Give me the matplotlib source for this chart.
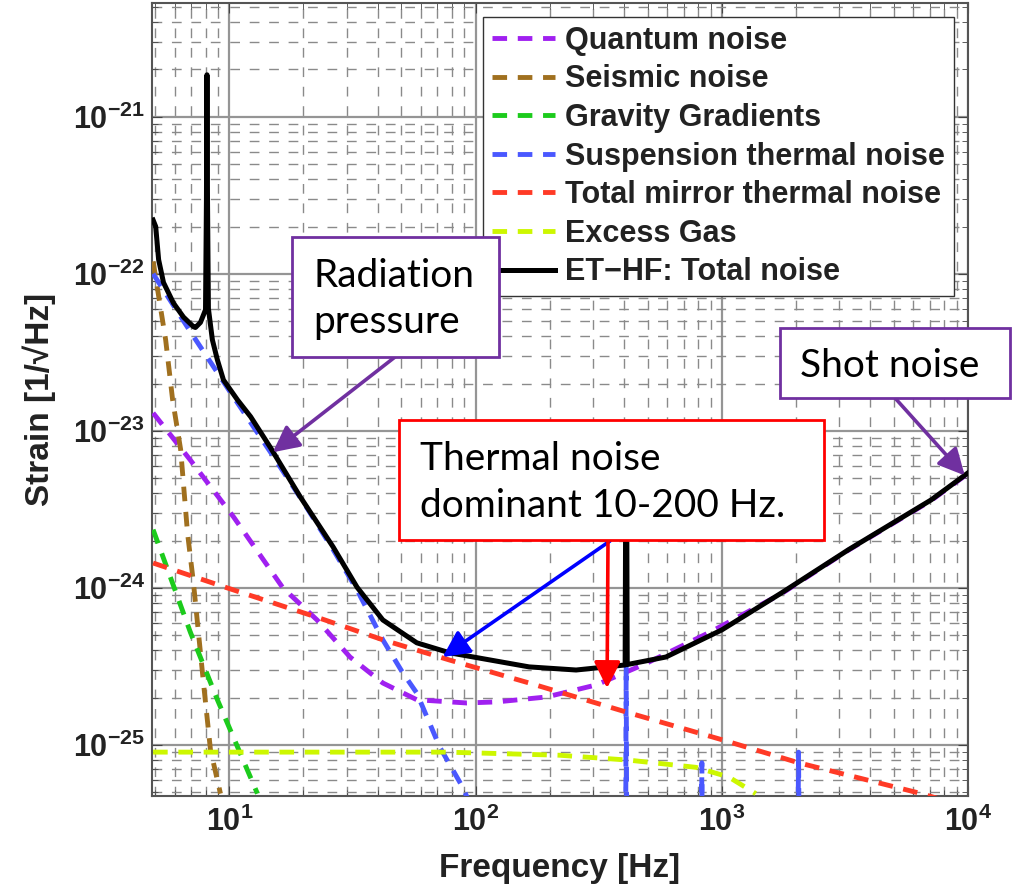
import numpy as np
import matplotlib.pyplot as plt
from matplotlib.patches import Rectangle
from matplotlib.ticker import LogLocator, NullFormatter, FuncFormatter, FixedLocator

# ---- ET-HF noise budget (Hz , 1/sqrt(Hz)) ----
f_quantum = [4.9, 6.95, 10.4, 16.5, 22.7, 30.9, 42, 57.7, 92, 122, 194, 309, 492, 912, 1750, 3270, 7080, 10000]
h_quantum = [1.3e-23, 6.5e-24, 2.83e-24, 1.0e-24, 6.25e-25, 3.63e-25, 2.48e-25, 1.94e-25, 1.85e-25,
             1.88e-25, 2.02e-25, 2.41e-25, 3.3e-25, 5.3e-25, 9.2e-25, 1.74e-24, 3.6e-24, 5.35e-24]

f_seismic = [4.9, 5.51, 5.88, 6.34, 6.76, 7.15, 7.85, 8.38, 9.2]
h_seismic = [1.2e-22, 3.8e-23, 1.58e-23, 7.6e-24, 2.24e-24, 1.07e-24, 2.48e-25, 9.3e-26, 4.9e-26]

f_gravity = [4.9, 6.95, 8.94, 13.0]
h_gravity = [2.35e-24, 5.2e-25, 1.94e-25, 4.9e-26]

f_susp = [4.9, 7.0, 10.0, 14.7, 20.0, 26.4, 33, 42, 50.6, 57.7, 71.5, 88.5, 110, 150, 300,
          405, 409, 413, 820, 830, 840, 2010, 2050, 2090, 10000]
h_susp = [1.0e-22, 4.2e-23, 1.8e-23, 7.3e-24, 3.5e-24, 1.75e-24, 9.7e-25, 4.67e-25, 2.88e-25,
          2.14e-25, 9.7e-26, 5.4e-26, 2.5e-26, 1.2e-26, 3e-27,
          2e-27, 3.2e-25, 2e-27, 1e-27, 7.7e-26, 1e-27, 1e-27, 9e-26, 1e-27, 1e-27]

f_mirror = [4.9, 9.8, 22.7, 42, 78.5, 165, 420, 1000, 2050, 6460, 10000]
h_mirror = [1.44e-24, 1.0e-24, 6.5e-25, 4.67e-25, 3.47e-25, 2.48e-25, 1.6e-25, 1.08e-25, 7.7e-26, 4.9e-26, 4.0e-26]

f_gas = [4.9, 76, 219, 420, 785, 1067, 1374]
h_gas = [9.0e-26, 9.0e-26, 8.6e-26, 8.0e-26, 7.2e-26, 6.25e-26, 4.9e-26]

f_total = [4.9, 5.02, 5.16, 5.40, 5.93, 6.51, 7.15, 7.28, 7.63, 8.0, 8.07, 8.11, 8.15, 8.22,
           8.53, 8.94, 9.46, 10.8, 12.2, 14.7, 19.4, 26.4, 33, 42, 57.7, 78.5, 165, 256,
           405, 407, 409, 411, 413, 593, 1000, 1750, 3270, 7080, 10000]
h_total = [2.2e-22, 2.0e-22, 1.23e-22, 8.8e-23, 6.5e-23, 5.3e-23, 4.6e-23, 4.55e-23, 4.9e-23, 5.9e-23,
           3e-22, 1.85e-21, 3e-22, 6e-23,
           3.8e-23, 2.83e-23, 2.11e-23, 1.57e-23, 1.23e-23, 7.8e-24, 3.8e-24, 1.82e-24, 1.01e-24,
           6.25e-25, 4.47e-25, 3.86e-25, 3.14e-25, 3.0e-25,
           3.23e-25, 3.6e-24, 5e-24, 3.6e-24, 3.25e-25, 3.63e-25, 5.4e-25, 9.3e-25, 1.75e-24,
           3.63e-24, 5.4e-24]

x_ticks = [10, 100, 1000, 10000]
y_ticks = [1e-25, 1e-24, 1e-23, 1e-22, 1e-21]

series = [
    (f_quantum, h_quantum, "Quantum noise", "#a020f0"),
    (f_seismic, h_seismic, "Seismic noise", "#a0701f"),
    (f_gravity, h_gravity, "Gravity Gradients", "#1ccb1c"),
    (f_susp, h_susp, "Suspension thermal noise", "#4a58ff"),
    (f_mirror, h_mirror, "Total mirror thermal noise", "#ff3a26"),
    (f_gas, h_gas, "Excess Gas", "#cdf700"),
]

plt.rcParams['font.family'] = ['Liberation Sans', 'DejaVu Sans']
plt.rcParams['font.weight'] = 'bold'
plt.rcParams['mathtext.fontset'] = 'custom'
plt.rcParams['mathtext.rm'] = 'Liberation Sans:bold'
plt.rcParams['mathtext.bf'] = 'Liberation Sans:bold'
plt.rcParams['mathtext.default'] = 'bf'

W, H = 1013, 892
fig = plt.figure(figsize=(W/100, H/100), dpi=100)

def px(x, y):
    return (x/W, 1 - y/H)

ax = fig.add_axes([152/W, 1-796/H, 816/W, 793/H])
ax.set_xscale('log')
ax.set_yscale('log')

for f, h, lab, col in series:
    ax.plot(f, h, color=col, lw=3.5, dashes=(3, 2.2), label=lab, zorder=3)
ax.plot(f_total, h_total, color='black', lw=3.6, label="ET\u2212HF: Total noise", zorder=4)

ax.set_xlim(4.85, 1e4)
ax.set_ylim(4.73e-26, 5.3e-21)

ax.xaxis.set_major_locator(FixedLocator(x_ticks))
ax.yaxis.set_major_locator(FixedLocator(y_ticks))
ax.xaxis.set_minor_locator(LogLocator(base=10, subs=np.arange(2, 10), numticks=20))
ax.yaxis.set_minor_locator(LogLocator(base=10, subs=np.arange(2, 10), numticks=20))
ax.xaxis.set_minor_formatter(NullFormatter())
ax.yaxis.set_minor_formatter(NullFormatter())
fmt = FuncFormatter(lambda v, p: r"$10^{%d}$" % int(round(np.log10(v))))
ax.xaxis.set_major_formatter(fmt)
ax.yaxis.set_major_formatter(fmt)

ax.grid(True, which='major', color='#959595', lw=1.6, ls='-', zorder=0)
ax.grid(True, which='minor', color='#8a8a8a', lw=1.0, ls=(0, (7, 7)), zorder=0)
ax.set_axisbelow(True)
ax.tick_params(which='both', direction='in', top=True, right=True, colors='#444444', labelcolor='#222222')
ax.tick_params(which='major', length=7, labelsize=22)
ax.tick_params(which='minor', length=4)
ax.tick_params(axis='x', pad=8)
ax.tick_params(axis='y', pad=5)
for s in ax.spines.values():
    s.set_color('#555555')
    s.set_linewidth(1.5)

ax.set_xlabel("Frequency [Hz]", fontsize=24, fontweight='bold', color='#222222', va='top')
ax.set_ylabel("Strain [1/\u221aHz]", fontsize=24, fontweight='bold', color='#222222')
ax.xaxis.set_label_coords(0.5, -0.072)
ax.yaxis.set_label_coords(-0.118, 0.5)

leg = ax.legend(loc='upper right', fontsize=22, handlelength=2.05, handletextpad=0.33,
                labelspacing=0.28, borderpad=0.3, borderaxespad=0.45, fancybox=False,
                framealpha=1, edgecolor='#333333')
leg.get_frame().set_linewidth(1.0)
for t in leg.get_texts():
    t.set_color('#222222')

# ---- annotation boxes (slide overlay) ----
txt_font = ['Lato', 'DejaVu Sans']

def box(x0, y0, x1, y1, ec):
    r = Rectangle(px(x0, y1), (x1-x0)/W, (y1-y0)/H, transform=fig.transFigure,
                  facecolor='white', edgecolor=ec, lw=2.0, zorder=10)
    fig.add_artist(r)

def label(x, y, s):
    fig.text(*px(x, y), s, fontsize=28, family=txt_font, fontweight='normal',
             va='baseline', ha='left', zorder=12)

def arrow(tip, start, col):
    ax.annotate('', xy=tip, xycoords='data', xytext=px(*start), textcoords='figure fraction',
                arrowprops=dict(arrowstyle='-|>,head_length=0.8,head_width=0.4', color=col,
                                lw=2.6, shrinkA=0, shrinkB=0, mutation_scale=20),
                annotation_clip=False, zorder=11)

purple = '#7030a0'
box(292, 237, 499, 357, purple)
label(313, 287, "Radiation")
label(313, 333, "pressure")
arrow((15.0, 7.3e-24), (395, 357), purple)

box(399, 420, 824, 540, 'red')
label(420, 470, "Thermal noise")
label(420, 517, "dominant 10-200 Hz.")
arrow((73.5, 3.63e-25), (610, 541), 'blue')
arrow((342, 2.3e-25), (608, 541), 'red')

box(780, 328, 1010, 398, purple)
label(800, 377, "Shot noise")
arrow((9700, 5.2e-24), (895, 398), purple)

fig.savefig("out.png", dpi=100)
